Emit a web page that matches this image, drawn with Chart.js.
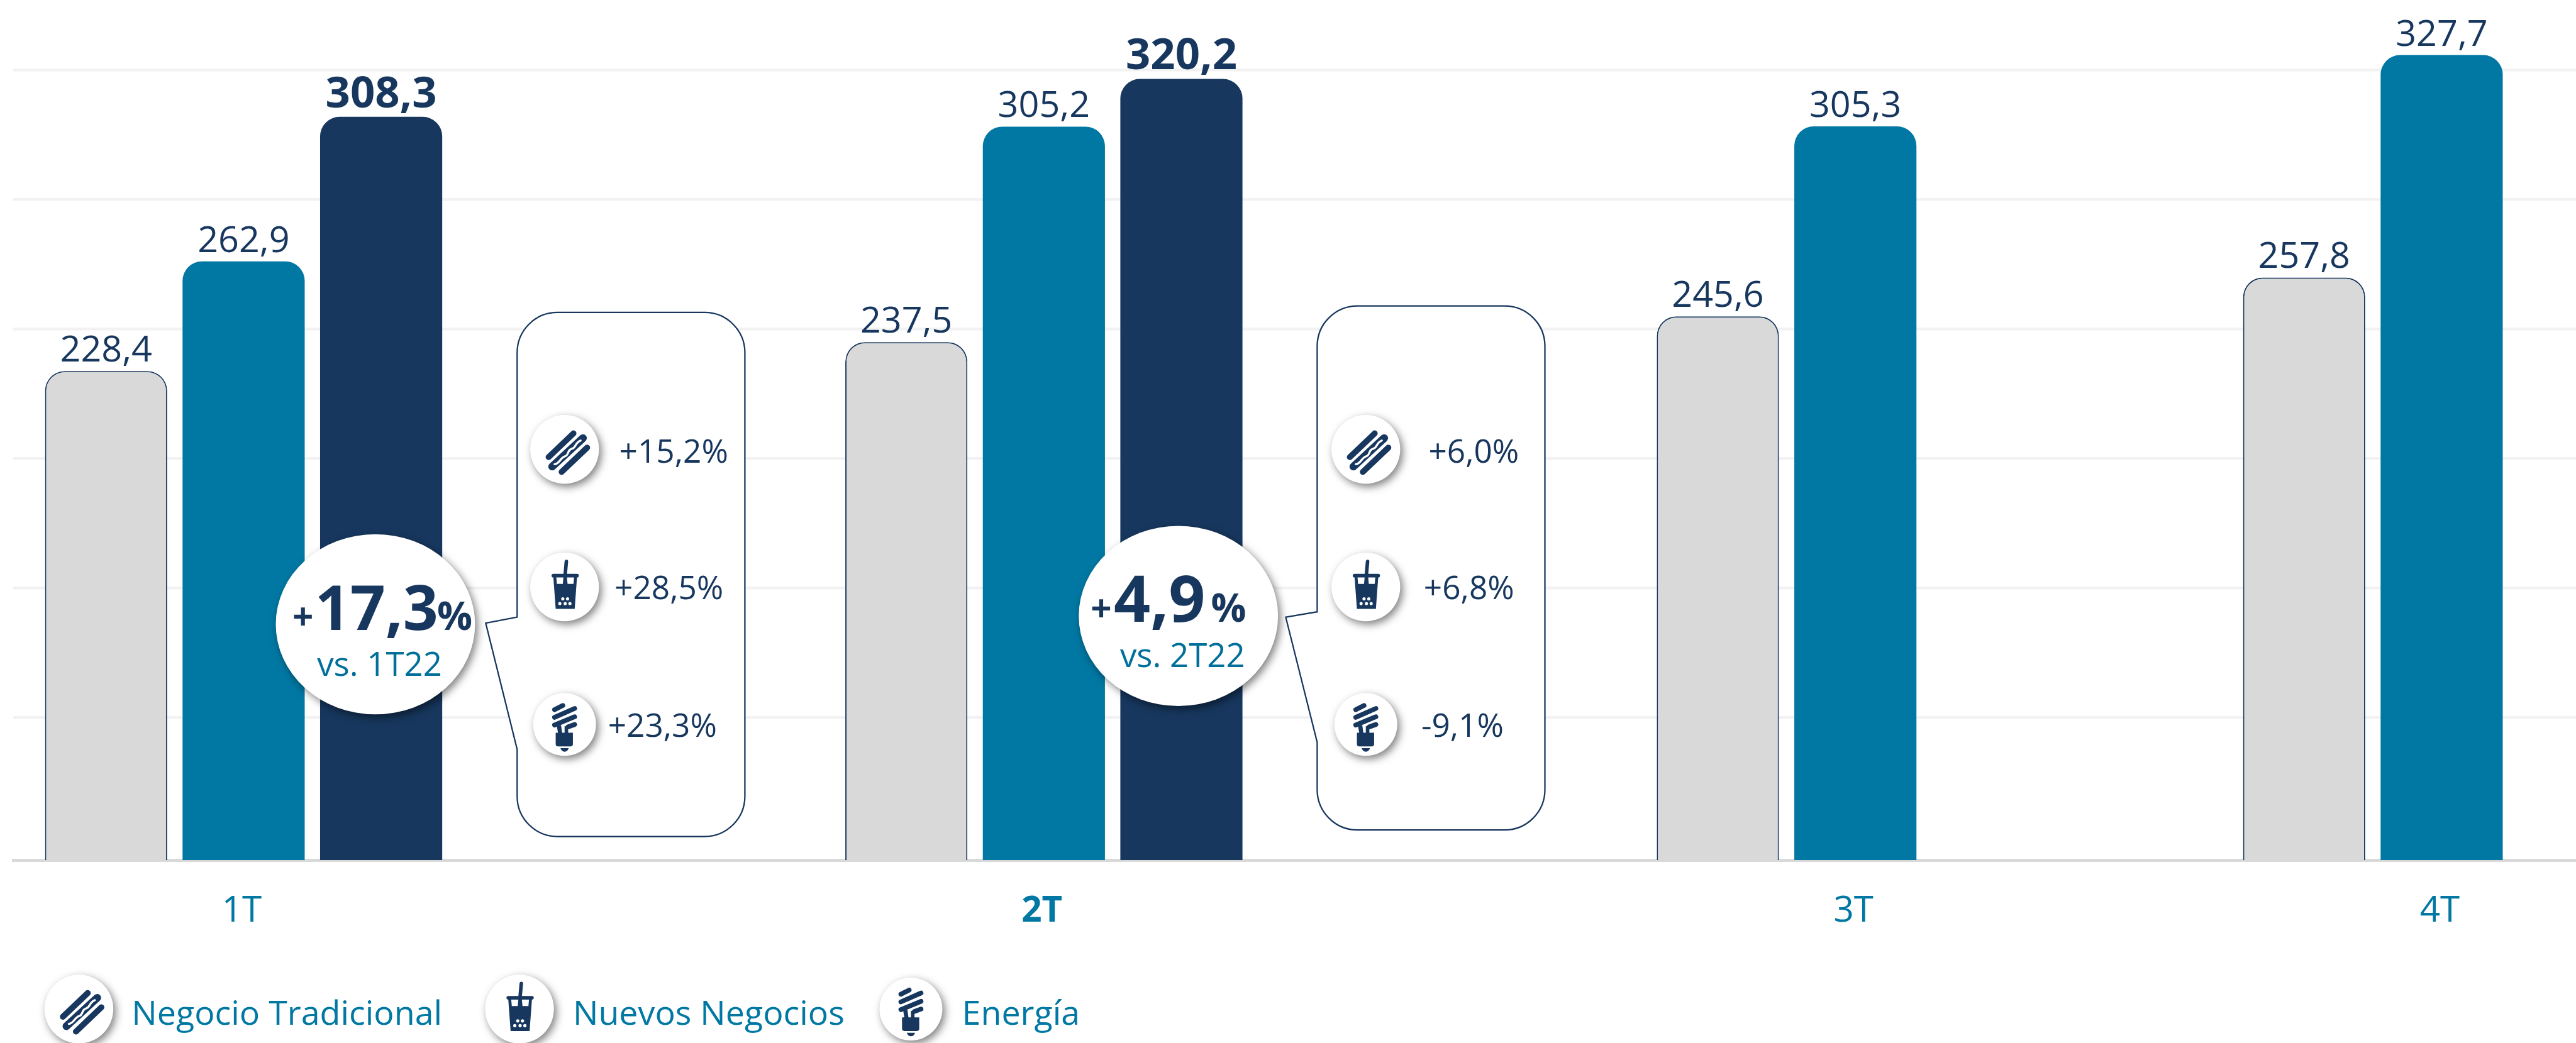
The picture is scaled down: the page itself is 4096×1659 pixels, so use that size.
<!DOCTYPE html>
<html lang="es">
<head>
<meta charset="utf-8">
<title>Ingresos por trimestre</title>
<script src="https://cdn.jsdelivr.net/npm/chart.js@4/dist/chart.umd.js"></script>
<style>
    html, body { margin: 0; padding: 0; background: #fff; }
    canvas { display: block; }
</style>
</head>
<body>
<canvas id="chart" width="4096" height="1659"></canvas>
<script>
// data
const quarters = ['1T', '2T', '3T', '4T'];
const seriesNames = ['Negocio Tradicional', 'Nuevos Negocios', 'Energía'];
const tradicional = [228.4, 237.5, 245.6, 257.8];
const nuevos = [262.9, 305.2, 305.3, 327.7];
const energia = [308.3, 320.2];
const gridValues = [323, 282.3, 241.6, 200.9, 160.2, 119.5];

const growthTotal = ['17,3', '4,9'];
const growthPeriod = ['vs. 1T22', 'vs. 2T22'];
const growthBySeries = [
    ['+15,2%', '+28,5%', '+23,3%'],
    ['+6,0%', '+6,8%', '-9,1%'],
];

// the quarters are not evenly spaced in the original
const quarterPositions = [1, 1.995, 3.004, 3.733];

const S = 0.943;
const NAVY = '#17375e';
const TEAL = '#0078a3';
const GREY = '#d9d9d9';
const FONT = '"Open Sans", "Noto Sans", sans-serif';

function toPoints(values) {
    return values.map((v, i) => ({ x: quarterPositions[i], y: v }));
}

function formatValue(v) {
    return v.toFixed(1).replace('.', ',');
}

function drawText(ctx, str, x, y, size, weight, color, align) {
    ctx.font = weight + ' ' + (size * S) + 'px ' + FONT;
    ctx.fillStyle = color;
    ctx.textAlign = align || 'left';
    ctx.textBaseline = 'alphabetic';
    ctx.fillText(str, x * S, y * S);
}

function capsule(ctx, x0, y0, x1, y1, w, color) {
    ctx.strokeStyle = color;
    ctx.lineWidth = w;
    ctx.lineCap = 'round';
    ctx.beginPath();
    ctx.moveTo(x0, y0);
    ctx.lineTo(x1, y1);
    ctx.stroke();
}

// icons are drawn around the badge centre, in reference pixels
function iconHotdog(ctx) {
    capsule(ctx, -27, 13, 15, -27, 10, NAVY);
    capsule(ctx, -21, 29, 31, -19, 13, NAVY);
    capsule(ctx, -5, 38, 38, -3, 10, NAVY);
    ctx.strokeStyle = '#fff';
    ctx.lineWidth = 3.5;
    ctx.lineCap = 'round';
    ctx.beginPath();
    ctx.moveTo(-17, 25);
    ctx.bezierCurveTo(-9, 25, -7, 14, 0, 12);
    ctx.bezierCurveTo(8, 10, 4, 1, 12, -1);
    ctx.bezierCurveTo(20, -3, 16, -10, 27, -15);
    ctx.stroke();
}

function iconCup(ctx) {
    capsule(ctx, 3, -43, 1, -21, 6, NAVY);
    ctx.fillStyle = NAVY;
    ctx.beginPath();
    ctx.roundRect(-22, -22, 46, 6, 3);
    ctx.fill();
    ctx.beginPath();
    ctx.moveTo(-19, -17);
    ctx.lineTo(21, -17);
    ctx.lineTo(17, 37);
    ctx.lineTo(-15, 37);
    ctx.closePath();
    ctx.fill();
    ctx.fillStyle = '#fff';
    ctx.beginPath();
    ctx.moveTo(-14, -16);
    ctx.lineTo(-2, -16);
    ctx.lineTo(-3, -5);
    ctx.lineTo(-13, -5);
    ctx.closePath();
    ctx.moveTo(4, -16);
    ctx.lineTo(16, -16);
    ctx.lineTo(15, -5);
    ctx.lineTo(5, -5);
    ctx.closePath();
    ctx.fill();
    [[-3, 20], [5, 20], [-8, 28], [1, 28], [9, 28]].forEach(d => {
        ctx.beginPath();
        ctx.arc(d[0], d[1], 2.7, 0, Math.PI * 2);
        ctx.fill();
    });
}

function iconBulb(ctx) {
    capsule(ctx, -17, -25, -3, -32, 8, NAVY);
    capsule(ctx, -17, -12, 17, -27, 8, NAVY);
    capsule(ctx, -17, 1, 17, -13, 8, NAVY);
    capsule(ctx, 6, 4, 17, 0, 8, NAVY);
    ctx.fillStyle = NAVY;
    ctx.beginPath();
    ctx.moveTo(-13, 3);
    ctx.lineTo(-6, 1);
    ctx.lineTo(-4, 15);
    ctx.lineTo(-11, 15);
    ctx.closePath();
    ctx.fill();
    ctx.fillRect(0, 3, 6, 12);
    ctx.beginPath();
    ctx.roundRect(-15, 14, 29, 23, [0, 0, 4, 4]);
    ctx.fill();
    ctx.beginPath();
    ctx.moveTo(-7, 40);
    ctx.lineTo(7, 40);
    ctx.quadraticCurveTo(5, 46, 0, 46);
    ctx.quadraticCurveTo(-5, 46, -7, 40);
    ctx.fill();
}

function drawBadge(ctx, x, y, r, icon) {
    ctx.save();
    ctx.translate(x * S, y * S);
    ctx.scale(S, S);
    ctx.save();
    ctx.shadowColor = 'rgba(0,0,0,0.5)';
    ctx.shadowBlur = 13;
    ctx.shadowOffsetX = 4;
    ctx.shadowOffsetY = 5;
    ctx.fillStyle = '#fff';
    ctx.beginPath();
    ctx.arc(0, 0, r, 0, Math.PI * 2);
    ctx.fill();
    ctx.restore();
    icon(ctx);
    ctx.restore();
}

function drawBubble(ctx, b) {
    const r = 68;
    ctx.save();
    ctx.scale(S, S);
    ctx.beginPath();
    ctx.moveTo(b.left + r, b.top);
    ctx.arcTo(b.right, b.top, b.right, b.bottom, r);
    ctx.arcTo(b.right, b.bottom, b.left, b.bottom, r);
    ctx.arcTo(b.left, b.bottom, b.left, b.top, r);
    ctx.lineTo(b.left, b.tailBottom);
    ctx.lineTo(b.tipX, b.tipY);
    ctx.lineTo(b.left, b.tailTop);
    ctx.arcTo(b.left, b.top, b.right, b.top, r);
    ctx.closePath();
    ctx.fillStyle = '#fff';
    ctx.fill();
    ctx.strokeStyle = NAVY;
    ctx.lineWidth = 2.4;
    ctx.stroke();
    ctx.restore();
}

function drawEllipse(ctx, x, y, rx, ry) {
    ctx.save();
    ctx.scale(S, S);
    ctx.shadowColor = 'rgba(0,0,0,0.5)';
    ctx.shadowBlur = 13;
    ctx.shadowOffsetX = 4;
    ctx.shadowOffsetY = 5;
    ctx.fillStyle = '#fff';
    ctx.beginPath();
    ctx.ellipse(x, y, rx, ry, 0, 0, Math.PI * 2);
    ctx.fill();
    ctx.restore();
}

// where the annotations sit, in reference pixels
const icons = [iconHotdog, iconCup, iconBulb];
const badgeRows = [758, 990, 1222];
const badgeRadius = [58, 58, 53];
const textRows = [780, 1011, 1243];
const callouts = [
    {
        left: 872, right: 1256, top: 527, bottom: 1411,
        tailTop: 1041, tipX: 819, tipY: 1051, tailBottom: 1264,
        cx: 633, cy: 1053, badgeX: 952,
        textX: [1136, 1128, 1117],
        plusX: 493, bigX: 531, pctX: 737, bigY: 1063,
        periodX: 640, periodY: 1140,
        bigSize: 104,
    },
    {
        left: 2221, right: 2605, top: 516, bottom: 1400,
        tailTop: 1032, tipX: 2168, tipY: 1041, tailBottom: 1252,
        cx: 1987, cy: 1039, badgeX: 2303,
        textX: [2485, 2477, 2466],
        plusX: 1839, bigX: 1878, pctX: 2042, bigY: 1049,
        periodX: 1994, periodY: 1125,
        bigSize: 108,
    },
];
const legendItems = [
    { badgeX: 133, textX: 222 },
    { badgeX: 876, textX: 966 },
    { badgeX: 1536, textX: 1622 },
];

const barLabels = {
    id: 'barLabels',
    afterDatasetsDraw(chart) {
        const ctx = chart.ctx;
        chart.data.datasets.forEach((ds, d) => {
            chart.getDatasetMeta(d).data.forEach((bar, i) => {
                const bold = d === 2;
                ctx.font = (bold ? '700 ' + 73 * S : '400 ' + 61 * S) + 'px ' + FONT;
                ctx.fillStyle = NAVY;
                ctx.textAlign = 'center';
                ctx.textBaseline = 'alphabetic';
                ctx.fillText(formatValue(ds.data[i].y), bar.x, bar.y - 16 * S);
            });
        });
    }
};

const annotations = {
    id: 'annotations',
    afterDraw(chart) {
        const ctx = chart.ctx;
        callouts.forEach((c, n) => {
            drawBubble(ctx, c);
            drawEllipse(ctx, c.cx, c.cy, 168, 152);
            drawText(ctx, '+', c.plusX, c.bigY, 62, 700, NAVY);
            drawText(ctx, growthTotal[n], c.bigX, c.bigY, c.bigSize, 700, NAVY);
            drawText(ctx, '%', c.pctX, c.bigY, 66, 700, NAVY);
            drawText(ctx, growthPeriod[n], c.periodX, c.periodY, 56, 400, '#006f9a', 'center');
            growthBySeries[n].forEach((txt, i) => {
                drawBadge(ctx, c.badgeX, badgeRows[i], badgeRadius[i], icons[i]);
                drawText(ctx, txt, c.textX[i], textRows[i], 54.5, 400, NAVY, 'center');
            });
        });
        seriesNames.forEach((name, i) => {
            drawBadge(ctx, legendItems[i].badgeX, 1702, badgeRadius[i], icons[i]);
            drawText(ctx, name, legendItems[i].textX, 1728, 57, 400, TEAL);
        });
    }
};

const topRadius = { topLeft: 31, topRight: 31, bottomLeft: 0, bottomRight: 0 };

new Chart(document.getElementById('chart'), {
    type: 'bar',
    data: {
        datasets: [
            {
                label: seriesNames[0],
                data: toPoints(tradicional),
                backgroundColor: GREY,
                borderColor: NAVY,
                borderWidth: 2,
                borderSkipped: false,
                borderRadius: topRadius,
            },
            {
                label: seriesNames[1],
                data: toPoints(nuevos),
                backgroundColor: TEAL,
                borderWidth: 0,
                borderRadius: topRadius,
            },
            {
                label: seriesNames[2],
                data: toPoints(energia),
                backgroundColor: NAVY,
                borderWidth: 0,
                borderRadius: topRadius,
            },
        ],
    },
    options: {
        responsive: false,
        animation: false,
        categoryPercentage: 0.7037,
        barPercentage: 0.888,
        layout: { padding: { left: 21, right: 0, top: 0, bottom: 0 } },
        plugins: {
            legend: { display: false },
            title: { display: false },
            tooltip: { enabled: false },
        },
        scales: {
            x: {
                type: 'linear',
                offset: false,
                min: 0.7135,
                max: 3.9,
                grid: { display: false, offset: false },
                border: { display: true, color: GREY, width: 5 },
                afterBuildTicks: scale => {
                    scale.ticks = quarterPositions.map(v => ({ value: v }));
                },
                afterFit: scale => { scale.height = 291; },
                ticks: {
                    autoSkip: false,
                    maxRotation: 0,
                    padding: 40,
                    color: TEAL,
                    labelOffset: -3,
                    font: ctx => ({
                        family: FONT,
                        size: 60 * S,
                        weight: ctx.index === 1 ? '700' : '400',
                    }),
                    callback: (value, index) => quarters[index],
                },
            },
            y: {
                min: 74.8,
                max: 345,
                afterBuildTicks: scale => {
                    scale.ticks = gridValues.map(v => ({ value: v }));
                },
                afterFit: scale => { scale.width = 0; },
                grid: { color: '#f2f2f2', lineWidth: 4.5, drawTicks: false },
                border: { display: false },
                ticks: { display: false },
            },
        },
    },
    plugins: [barLabels, annotations],
});
</script>
</body>
</html>
